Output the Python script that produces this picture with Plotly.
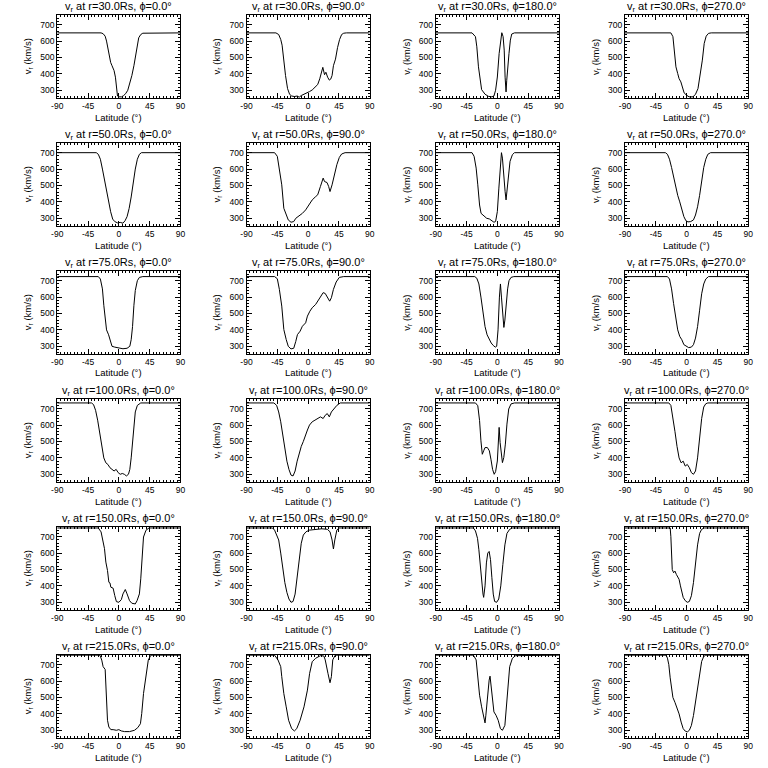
import plotly.graph_objects as go

radii = [30.0, 50.0, 75.0, 100.0, 150.0, 215.0]
phis = [0.0, 90.0, 180.0, 270.0]
x_ticks = [-90, -45, 0, 45, 90]
y_ticks = [300, 400, 500, 600, 700]
y_range = [253, 759]

# r = 30 Rs
lat_r030_p000 = [-90, -26, -23, -20, -18, -16, -14, -12, -10, -7, -5, -4, -3, -2, 0, 4, 7, 10, 13, 16, 19, 22, 25, 27, 29, 32, 35, 90]
v_r030_p000 = [650, 650, 645, 630, 600, 550, 500, 470, 450, 420, 380, 320, 280, 265, 260, 260, 268, 280, 300, 340, 390, 450, 520, 580, 620, 640, 648, 650]
lat_r030_p090 = [-90, -47, -43, -40, -38, -36, -33, -30, -27, -24, -20, -16, -13, -10, -6, -2, 2, 6, 10, 14, 17, 20, 21.5, 24, 26, 28.5, 31, 33, 35, 37, 40, 43, 46, 49, 52, 56, 90]
v_r030_p090 = [650, 650, 640, 610, 575, 490, 390, 310, 275, 265, 262, 265, 258, 268, 275, 282, 292, 302, 318, 335, 370, 430, 440, 395, 410, 380, 362, 368, 390, 450, 490, 560, 610, 640, 648, 650, 650]
lat_r030_p180 = [-90, -37, -32, -30, -27.6, -25, -23, -18, -13, -8, -5, -2.6, 0, 2.6, 5, 6.5, 8.4, 10, 11.3, 12.7, 13.7, 15, 17, 19, 21, 25, 90]
v_r030_p180 = [650, 650, 627, 565, 443, 351, 304, 276, 263, 260, 265, 300, 381, 524, 627, 651, 627, 545, 380, 290, 361, 443, 524, 606, 643, 650, 650]
lat_r030_p270 = [-90, -23, -20, -18, -15.6, -13, -11, -8.4, -6, -3.6, 0, 3.6, 9.4, 13, 16.6, 19.4, 23, 25.7, 28.6, 32, 36, 90]
v_r030_p270 = [650, 650, 627, 545, 443, 402, 371, 351, 316, 284, 270, 260, 260, 276, 310, 381, 484, 586, 630, 647, 650, 650]

# r = 50 Rs
lat_r050_p000 = [-90, -33, -30, -27, -24, -21, -18, -15, -12, -9, -6, -2, 2, 6, 9, 12, 15, 18, 21, 24, 27, 30, 33, 90]
v_r050_p000 = [700, 700, 690, 660, 600, 530, 460, 400, 340, 295, 280, 272, 275, 270, 285, 310, 360, 430, 520, 600, 660, 690, 700, 700]
lat_r050_p090 = [-90, -49, -45, -42, -38.5, -35.5, -32, -29, -25, -21, -18, -13, -8.4, -3.6, 1, 6, 11, 14, 18, 22, 24, 27.6, 30, 32, 35, 38, 42, 45.6, 49, 54, 90]
v_r050_p090 = [700, 700, 678, 606, 504, 361, 320, 290, 276, 280, 300, 316, 330, 351, 378, 412, 432, 443, 494, 545, 524, 518, 494, 463, 504, 565, 627, 671, 692, 700, 700]
lat_r050_p180 = [-90, -37, -34, -31, -28.6, -26, -23.8, -20, -15.6, -11.7, -8.4, -5, -2.6, 0, 2.2, 4.5, 6, 7.4, 9.4, 11.3, 12.7, 14, 16, 18.5, 22, 25, 90]
v_r050_p180 = [700, 700, 678, 606, 504, 381, 330, 316, 300, 296, 284, 276, 280, 341, 484, 627, 700, 667, 545, 463, 412, 463, 565, 647, 688, 700, 700]
lat_r050_p270 = [-90, -31, -28, -25, -22, -19, -16, -13, -10, -7, -4, -1, 2, 6, 10, 13, 16, 19, 22, 25, 28, 31, 35, 90]
v_r050_p270 = [700, 700, 690, 660, 610, 550, 490, 440, 400, 350, 310, 285, 278, 280, 290, 320, 370, 440, 530, 610, 660, 690, 700, 700]

# r = 75 Rs
lat_r075_p000 = [-90, -30, -27, -24, -22, -20, -18, -15, -12, -10, -6, 0, 6, 12, 16, 18, 20, 22, 24, 27, 30, 35, 90]
v_r075_p000 = [725, 725, 710, 650, 550, 450, 400, 370, 320, 300, 295, 290, 285, 288, 300, 340, 420, 550, 640, 700, 720, 725, 725]
lat_r075_p090 = [-90, -49, -45, -42, -38.5, -35.5, -32, -29, -25, -21, -18, -15.6, -11.7, -8.4, -3.6, -1, 2.6, 6, 11, 14, 18, 22, 25, 28.6, 31.5, 34, 37, 41, 45.6, 52, 90]
v_r075_p090 = [725, 725, 712, 647, 545, 402, 341, 300, 284, 288, 330, 371, 392, 422, 443, 484, 514, 535, 555, 575, 606, 627, 622, 596, 575, 596, 647, 692, 720, 725, 725]
lat_r075_p180 = [-90, -33, -30, -27, -24, -21, -18, -15, -12, -9, -6, -3, -1, 1, 3, 4.5, 6, 8, 9.5, 11, 13, 15, 17, 20, 24, 90]
v_r075_p180 = [725, 725, 715, 680, 600, 500, 420, 370, 340, 320, 305, 295, 300, 400, 600, 680, 600, 450, 415, 460, 560, 650, 700, 720, 725, 725]
lat_r075_p270 = [-90, -28, -25, -22, -19, -16, -13, -10, -7, -4, -1, 3, 7, 10, 13, 16, 19, 22, 25, 28, 32, 90]
v_r075_p270 = [725, 725, 710, 650, 560, 470, 400, 360, 340, 310, 300, 292, 295, 310, 350, 420, 520, 620, 680, 710, 725, 725]

# r = 100 Rs
lat_r100_p000 = [-90, -40, -37, -34, -31, -28, -25, -22, -19, -16, -13, -10, -7, -4, -1, 2, 5, 8, 11, 14, 16, 18, 20, 22, 24, 27, 32, 90]
v_r100_p000 = [735, 735, 725, 690, 630, 560, 480, 400, 370, 360, 340, 330, 320, 330, 310, 300, 305, 300, 290, 300, 330, 400, 500, 600, 680, 720, 735, 735]
lat_r100_p090 = [-90, -50, -46, -43, -40, -37, -34, -31, -28, -25, -22, -19, -16, -13, -10, -7, -4, -1, 2, 6, 10, 14, 18, 22, 25, 28, 31, 34, 38, 42, 47, 90]
v_r100_p090 = [735, 735, 720, 680, 620, 540, 450, 380, 330, 295, 290, 320, 380, 430, 470, 500, 540, 570, 600, 620, 630, 640, 650, 640, 660, 670, 650, 680, 700, 720, 735, 735]
lat_r100_p180 = [-90, -32, -28.6, -26, -24, -22, -20, -18, -14.6, -11.7, -9.4, -7, -4.6, -2.6, 0, 1.2, 2.6, 4, 6, 7.4, 9.4, 11.7, 14, 16.6, 20, 25, 90]
v_r100_p180 = [735, 735, 718, 627, 504, 422, 443, 463, 463, 443, 392, 330, 300, 316, 381, 494, 586, 494, 392, 371, 402, 484, 606, 698, 729, 735, 735]
lat_r100_p270 = [-90, -26, -23, -20, -17, -14, -11, -8, -5, -2, 1, 4, 7, 10, 13, 16, 19, 22, 25, 28, 31, 90]
v_r100_p270 = [735, 735, 720, 650, 560, 470, 400, 370, 380, 350, 360, 340, 310, 300, 320, 400, 520, 640, 710, 730, 735, 735]

# r = 150 Rs
lat_r150_p000 = [-90, -30, -26, -24, -21, -19, -16.6, -14.6, -13, -11.7, -8.4, -6, -3.6, 0, 3.6, 6, 9.4, 12, 15.6, 19, 24, 26.6, 30, 32, 34, 36, 39.6, 44, 90]
v_r150_p000 = [753, 753, 729, 688, 627, 545, 494, 422, 418, 392, 386, 341, 304, 300, 316, 351, 378, 351, 310, 294, 290, 310, 351, 443, 586, 698, 739, 753, 753]
lat_r150_p090 = [-90, -52, -49, -46, -43, -40, -37, -34, -31, -28, -25, -22, -19, -16, -13, -10, -7, -3, 2, 10, 20, 28, 32, 35, 37, 39, 42, 45, 90]
v_r150_p090 = [753, 753, 740, 710, 680, 600, 500, 420, 360, 320, 300, 305, 350, 450, 570, 660, 710, 730, 740, 745, 748, 745, 730, 680, 625, 680, 740, 753, 753]
lat_r150_p180 = [-90, -35, -32, -29, -27, -25, -23, -21, -20, -18, -16, -14, -12, -10, -8, -6, -4, -1, 2, 5, 8, 11, 14, 18, 22, 90]
v_r150_p180 = [753, 753, 735, 690, 620, 520, 420, 350, 330, 400, 540, 600, 610, 560, 450, 350, 305, 300, 320, 400, 530, 650, 720, 745, 753, 753]
lat_r150_p270 = [-90, -24, -23, -22, -21, -19, -17, -15, -13, -11, -9, -7, -5, -2, 1, 4, 7, 10, 13, 16, 19, 22, 26, 90]
v_r150_p270 = [753, 753, 700, 600, 500, 480, 490, 470, 450, 440, 400, 360, 330, 310, 300, 305, 340, 420, 540, 650, 720, 745, 753, 753]

# r = 215 Rs
lat_r215_p000 = [-90, -27.6, -25, -23, -20, -19, -17.5, -16.6, -14.6, -11.7, -8.4, -3.6, 0, 3.6, 8.4, 15.6, 22.8, 27.6, 31.5, 33.4, 36, 39.6, 43, 46.8, 90]
v_r215_p000 = [758, 758, 728, 688, 671, 565, 473, 361, 320, 304, 304, 300, 304, 296, 292, 292, 300, 316, 340, 402, 524, 647, 728, 758, 758]
lat_r215_p090 = [-90, -49, -44, -40, -38.5, -35.5, -32, -28.5, -24, -20, -16.6, -11.7, -6, -1, 2.2, 6, 11, 18, 23, 25, 29, 32, 34, 36, 39.6, 90]
v_r215_p090 = [758, 758, 729, 688, 627, 524, 443, 361, 310, 296, 310, 361, 443, 545, 647, 718, 739, 755, 753, 729, 647, 590, 627, 729, 758, 758]
lat_r215_p180 = [-90, -35, -31, -28.6, -26, -23, -20, -18, -16.8, -14.6, -12, -10.7, -9.4, -7.4, -5, -2, 1.2, 4.5, 7.4, 11, 13, 15.6, 18, 22, 26.6, 90]
v_r215_p180 = [758, 758, 729, 627, 514, 443, 392, 345, 392, 504, 606, 630, 586, 504, 412, 392, 361, 310, 300, 330, 443, 586, 688, 739, 755, 758]
lat_r215_p270 = [-90, -30, -28, -26, -24, -22, -20, -17, -14, -11, -8, -5, -2, 1, 4, 7, 10, 13, 16, 19, 22, 25, 28, 90]
v_r215_p270 = [758, 758, 740, 700, 620, 540, 500, 470, 440, 400, 350, 310, 295, 290, 300, 330, 390, 470, 560, 650, 720, 750, 758, 758]

panels = [
    [(lat_r030_p000, v_r030_p000), (lat_r030_p090, v_r030_p090), (lat_r030_p180, v_r030_p180), (lat_r030_p270, v_r030_p270)],
    [(lat_r050_p000, v_r050_p000), (lat_r050_p090, v_r050_p090), (lat_r050_p180, v_r050_p180), (lat_r050_p270, v_r050_p270)],
    [(lat_r075_p000, v_r075_p000), (lat_r075_p090, v_r075_p090), (lat_r075_p180, v_r075_p180), (lat_r075_p270, v_r075_p270)],
    [(lat_r100_p000, v_r100_p000), (lat_r100_p090, v_r100_p090), (lat_r100_p180, v_r100_p180), (lat_r100_p270, v_r100_p270)],
    [(lat_r150_p000, v_r150_p000), (lat_r150_p090, v_r150_p090), (lat_r150_p180, v_r150_p180), (lat_r150_p270, v_r150_p270)],
    [(lat_r215_p000, v_r215_p000), (lat_r215_p090, v_r215_p090), (lat_r215_p180, v_r215_p180), (lat_r215_p270, v_r215_p270)],
]

W = H = 768
CELL_W, CELL_H = 192, 128
PL, PR, PT, PB = 52, 177, 15, 98
FONT = "Liberation Sans"

fig = go.Figure()
layout = dict(
    width=W, height=H, autosize=False, margin=dict(l=0, r=0, t=0, b=0, pad=0),
    paper_bgcolor="white", plot_bgcolor="white", showlegend=False,
    font=dict(family=FONT, color="black", size=9),
)
annotations = []
for r, rad in enumerate(radii):
    for c, ph in enumerate(phis):
        i = r * 4 + c + 1
        sfx = "" if i == 1 else str(i)
        lat, v = panels[r][c]
        fig.add_trace(go.Scatter(x=lat, y=v, mode="lines",
                                 line=dict(color="black", width=1),
                                 xaxis="x" + sfx, yaxis="y" + sfx,
                                 hoverinfo="skip"))
        x0 = (CELL_W * c + PL) / W
        x1 = (CELL_W * c + PR) / W
        y0 = 1 - (CELL_H * r + PB) / H
        y1 = 1 - (CELL_H * r + PT) / H
        layout["xaxis" + sfx] = dict(
            domain=[x0, x1], anchor="y" + sfx, range=[-90, 90],
            tickvals=x_ticks, ticktext=[str(t) for t in x_ticks],
            ticks="inside", ticklen=5, tickcolor="black", tickwidth=1,
            showline=True, linecolor="black", linewidth=1, mirror="ticks",
            showgrid=False, zeroline=False, fixedrange=True,
            tickfont=dict(size=8.5, family=FONT, color="black"),
            minor=dict(ticks="inside", ticklen=2, dtick=5, tickcolor="black", showgrid=False),
        )
        layout["yaxis" + sfx] = dict(
            domain=[y0, y1], anchor="x" + sfx, range=y_range,
            tickvals=y_ticks, ticktext=[str(t) for t in y_ticks],
            ticks="inside", ticklen=5, tickcolor="black", tickwidth=1,
            showline=True, linecolor="black", linewidth=1, mirror="ticks",
            showgrid=False, zeroline=False, fixedrange=True,
            tickfont=dict(size=8.5, family=FONT, color="black"),
            minor=dict(ticks="inside", ticklen=2, dtick=20, tickcolor="black", showgrid=False),
        )
        cx = (CELL_W * c + (PL + PR) / 2) / W
        annotations.append(dict(
            text=f"v<sub>r</sub> at r={rad:.1f}Rs, ϕ={ph:.1f}°",
            x=cx, y=1 - (CELL_H * r + 7) / H, xref="paper", yref="paper",
            showarrow=False, xanchor="center", yanchor="middle",
            font=dict(size=11, family=FONT, color="black")))
        annotations.append(dict(
            text="Latitude (°)",
            x=cx, y=1 - (CELL_H * r + 117) / H, xref="paper", yref="paper",
            showarrow=False, xanchor="center", yanchor="middle",
            font=dict(size=9.5, family=FONT, color="black")))
        annotations.append(dict(
            text="v<sub>r</sub> (km/s)", textangle=-90,
            x=(CELL_W * c + 22) / W, y=1 - (CELL_H * r + (PT + PB) / 2) / H,
            xref="paper", yref="paper",
            showarrow=False, xanchor="center", yanchor="middle",
            font=dict(size=9.5, family=FONT, color="black")))

layout["annotations"] = annotations
fig.update_layout(**layout)
fig.write_html("out.html", config={"displayModeBar": False, "responsive": False},
               post_script="document.body.style.margin='0';document.body.style.padding='0';")
